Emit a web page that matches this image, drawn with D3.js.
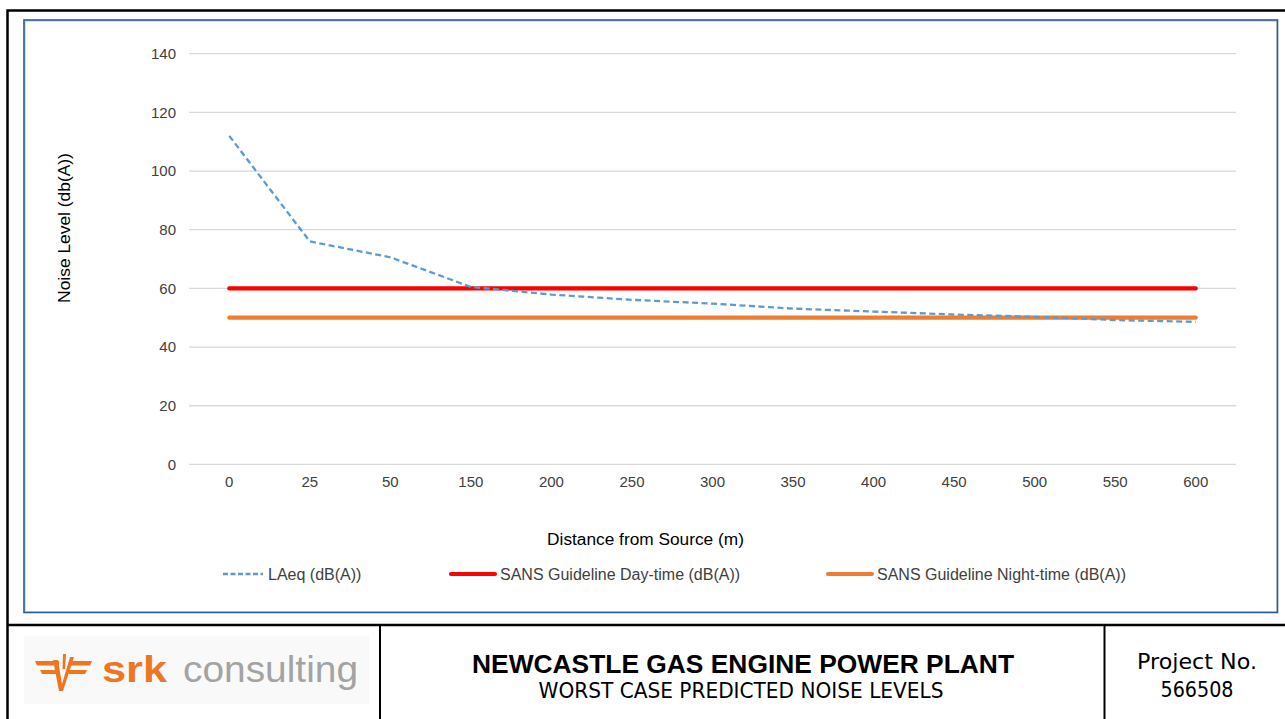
<!DOCTYPE html>
<html>
<head>
<meta charset="utf-8">
<script src="https://cdn.jsdelivr.net/npm/d3@7"></script>
<style>
  html, body { margin: 0; padding: 0; background: #fff; }
  svg { display: block; }
</style>
</head>
<body>
<svg id="chart" width="1285" height="719"></svg>
<script>
// Distance categories (m) along the x axis
const distances = ["0", "25", "50", "150", "200", "250", "300", "350", "400", "450", "500", "550", "600"];
// Predicted LAeq at each distance, dB(A)
const laeq = [112, 76, 70.6, 60.5, 57.9, 56.1, 54.8, 53.1, 52.1, 51.1, 50.3, 49.2, 48.6];
// SANS guideline limits, dB(A)
const dayLimit = [60, 60, 60, 60, 60, 60, 60, 60, 60, 60, 60, 60, 60];
const nightLimit = [50, 50, 50, 50, 50, 50, 50, 50, 50, 50, 50, 50, 50];
const yTicks = [0, 20, 40, 60, 80, 100, 120, 140];
const seriesNames = ["LAeq (dB(A))", "SANS Guideline Day-time (dB(A))", "SANS Guideline Night-time (dB(A))"];

const svg = d3.select("#chart");
const font = "'Liberation Sans', Arial, sans-serif";

// Page frame
svg.append("rect").attr("x", 7.5).attr("y", 10.5).attr("width", 1290).attr("height", 720)
  .attr("fill", "none").attr("stroke", "#000").attr("stroke-width", 2.5);
svg.append("line").attr("x1", 7).attr("x2", 1285).attr("y1", 625).attr("y2", 625)
  .attr("stroke", "#000").attr("stroke-width", 2.5);
svg.append("line").attr("x1", 380).attr("x2", 380).attr("y1", 625).attr("y2", 719)
  .attr("stroke", "#000").attr("stroke-width", 2);
svg.append("line").attr("x1", 1104.5).attr("x2", 1104.5).attr("y1", 625).attr("y2", 719)
  .attr("stroke", "#000").attr("stroke-width", 2);

// Chart frame
svg.append("rect").attr("x", 25).attr("y", 21).attr("width", 1252).attr("height", 591)
  .attr("fill", "none").attr("stroke", "#d0d0d0").attr("stroke-width", 1.5);
svg.append("rect").attr("x", 24).attr("y", 20).attr("width", 1253.5).attr("height", 592.5)
  .attr("fill", "none").attr("stroke", "#2F5A94").attr("stroke-width", 1.6);

// Scales
const x = d3.scaleBand().domain(distances).range([189, 1236]).padding(0);
const y = d3.scaleLinear().domain([0, 140]).range([464.4, 53.7]);
const cx = d => x(d) + x.bandwidth() / 2;

// Gridlines
svg.append("g").selectAll("line").data(yTicks).join("line")
  .attr("x1", 189).attr("x2", 1236)
  .attr("y1", d => y(d)).attr("y2", d => y(d))
  .attr("stroke", "#d9d9d9").attr("stroke-width", 1.3);

// Y axis labels
const yAxis = svg.append("g").attr("transform", "translate(176,0)")
  .call(d3.axisLeft(y).tickValues(yTicks).tickSize(0).tickPadding(0));
yAxis.select(".domain").remove();
yAxis.selectAll("text").attr("font-family", font).attr("font-size", 15).attr("fill", "#404040");

// X axis labels
const xAxis = svg.append("g").attr("transform", "translate(0,476)")
  .call(d3.axisBottom(x).tickSize(0).tickPadding(0));
xAxis.select(".domain").remove();
xAxis.selectAll("text").attr("font-family", font).attr("font-size", 15).attr("fill", "#404040");

// Axis titles
svg.append("text").attr("transform", "translate(70,228) rotate(-90)")
  .attr("text-anchor", "middle").attr("font-family", font).attr("font-size", 17.4).attr("fill", "#000")
  .text("Noise Level (db(A))");
svg.append("text").attr("x", 645.5).attr("y", 545)
  .attr("text-anchor", "middle").attr("font-family", font).attr("font-size", 17.3).attr("fill", "#000")
  .text("Distance from Source (m)");

// Series lines
const line = d3.line().x((d, i) => cx(distances[i])).y(d => y(d));
svg.append("path").datum(dayLimit).attr("d", line)
  .attr("fill", "none").attr("stroke", "#FF0000").attr("stroke-width", 4.2).attr("stroke-linecap", "round");
svg.append("path").datum(nightLimit).attr("d", line)
  .attr("fill", "none").attr("stroke", "#ED7D31").attr("stroke-width", 4.2).attr("stroke-linecap", "round");
svg.append("path").datum(laeq).attr("d", line)
  .attr("fill", "none").attr("stroke", "#5B9BD5").attr("stroke-width", 2.3)
  .attr("stroke-dasharray", "6,3.5").attr("stroke-linejoin", "round");

// Legend
const legendItems = [
  { name: seriesNames[0], x0: 223, len: 40, color: "#5B9BD5", width: 2.3, dash: "5,2.5" },
  { name: seriesNames[1], x0: 451, len: 44, color: "#FF0000", width: 4.2, dash: null },
  { name: seriesNames[2], x0: 828, len: 44, color: "#ED7D31", width: 4.2, dash: null }
];
const lg = svg.append("g").selectAll("g").data(legendItems).join("g");
lg.append("line").attr("x1", d => d.x0).attr("x2", d => d.x0 + d.len)
  .attr("y1", 574).attr("y2", 574)
  .attr("stroke", d => d.color).attr("stroke-width", d => d.width)
  .attr("stroke-dasharray", d => d.dash).attr("stroke-linecap", d => d.dash ? "butt" : "round");
lg.append("text").attr("x", d => d.x0 + d.len + 5).attr("y", 580)
  .attr("font-family", font).attr("font-size", 16).attr("fill", "#404040")
  .text(d => d.name);

// Title block: logo
const logo = svg.append("g");
logo.append("rect").attr("x", 24).attr("y", 636).attr("width", 345).attr("height", 68).attr("fill", "#f9f9f9");
const orange = "#EE7623";
// emblem: two rails broken by a V-shaped notch
logo.append("path")
  .attr("d", "M35,661 L59,661 L59,665.5 L37,665.5 Z M40,670 L58,670 L58,674 L42,674 Z" +
             "M69,661 L92,661 L90,665.5 L69,665.5 Z M69,670 L87,670 L85,674 L69,674 Z")
  .attr("fill", orange);
logo.append("path")
  .attr("d", "M53,660 L58,660 L62,684 L70,657 L74,657 L63,691 L59,691 Z")
  .attr("fill", orange);
logo.append("path")
  .attr("d", "M63,654 L66,654 L65,669 L62.5,669 Z")
  .attr("fill", orange);
logo.append("text").attr("x", 102).attr("y", 682)
  .attr("font-family", font).attr("font-weight", "bold").attr("font-size", 36.5).attr("fill", orange)
  .attr("textLength", 65).attr("lengthAdjust", "spacingAndGlyphs").text("srk");
logo.append("text").attr("x", 183).attr("y", 682)
  .attr("font-family", font).attr("font-size", 36.5).attr("fill", "#a3a3a3")
  .attr("textLength", 175).attr("lengthAdjust", "spacingAndGlyphs").text("consulting");

// Title block: titles
svg.append("text").attr("x", 743).attr("y", 673).attr("text-anchor", "middle")
  .attr("font-family", font).attr("font-weight", "bold").attr("font-size", 26).attr("fill", "#000")
  .attr("textLength", 542).attr("lengthAdjust", "spacingAndGlyphs").text("NEWCASTLE GAS ENGINE POWER PLANT");
svg.append("text").attr("x", 741).attr("y", 697.5).attr("text-anchor", "middle")
  .attr("font-family", "'DejaVu Sans', sans-serif").attr("font-size", 21.5).attr("fill", "#000")
  .attr("textLength", 405).attr("lengthAdjust", "spacingAndGlyphs").text("WORST CASE PREDICTED NOISE LEVELS");
svg.append("text").attr("x", 1197).attr("y", 669).attr("text-anchor", "middle")
  .attr("font-family", "'DejaVu Sans', sans-serif").attr("font-size", 20.5).attr("fill", "#000")
  .attr("textLength", 120).attr("lengthAdjust", "spacingAndGlyphs").text("Project No.");
svg.append("text").attr("x", 1197).attr("y", 697).attr("text-anchor", "middle")
  .attr("font-family", "'DejaVu Sans', sans-serif").attr("font-size", 20.5).attr("fill", "#000")
  .attr("textLength", 73).attr("lengthAdjust", "spacingAndGlyphs").text("566508");
</script>
</body>
</html>
